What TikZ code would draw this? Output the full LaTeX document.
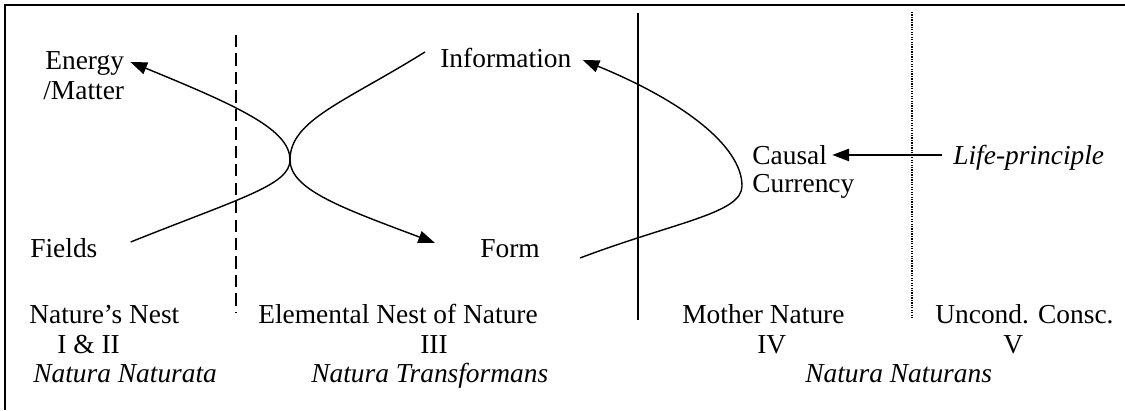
\documentclass[tikz,border=0pt]{standalone}
\usepackage{fontspec}
\setmainfont{Liberation Serif}
\usetikzlibrary{arrows.meta}
\tikzset{
	txt/.style={
		inner sep=0pt,
		anchor=base west,
		text height=11pt,
		text depth=3pt,
		font=\fontsize{15.6}{18}\selectfont,
	},
	ital/.style={
		txt,
		font=\fontsize{15.6}{18}\selectfont\itshape,
	},
	curve/.style={
		line width=0.8pt,
	},
	frame/.style={
		line width=1.1pt,
	},
	divdash/.style={
		line width=0.8pt,
		dash pattern=on 7pt off 3.5pt,
	},
	divsolid/.style={
		line width=1.1pt,
	},
	divdot/.style={
		line width=0.6pt,
		dash pattern=on 0.7pt off 0.7pt,
	},
}
\begin{document}
\begin{tikzpicture}[>={Triangle[length=9.5pt,width=7pt]}]
		\useasboundingbox (0,0) rectangle (22.5,8.2);
		% frame, only top and left edge are in view
		\draw [frame] (22.5,8.1) -| (0.1,0);
		
		% dividers between the nests
		\draw [divdash] (4.72,7.5) -- (4.72,1.94);
		\draw [divsolid] (12.76,7.94) -- (12.76,1.8);
		\draw [divdot] (18.24,7.96) -- (18.24,1.84);
		
		% Place nodes
		\node [txt] (energy) at (0.9,6.8) {Energy};
		\node [txt] (matter) at (0.86,6.2) {/Matter};
		\node [txt] (fields) at (0.6,3.04) {Fields};
		\node [txt] (info) at (8.8,6.84) {Information};
		\node [txt] (form) at (9.6,3.04) {Form};
		\node [txt] (causal) at (15.04,4.9) {Causal};
		\node [txt] (currency) at (15.04,4.34) {Currency};
		\node [ital] (life) at (19.06,4.9) {Life-principle};
		
		\node [txt] (nest) at (0.58,1.72) {Nature’s Nest};
		\node [txt] (nestnum) at (1.14,1.14) {I \& II};
		\node [ital] (naturata) at (0.66,0.56) {Natura Naturata};
		
		\node [txt] (elem) at (5.16,1.72) {Elemental Nest of Nature};
		\node [txt] (elemnum) at (8.4,1.14) {III};
		\node [ital] (transf) at (6.22,0.56) {Natura Transformans};
		
		\node [txt] (mother) at (13.64,1.72) {Mother Nature};
		\node [txt] (mothernum) at (15.14,1.14) {IV};
		\node [ital] (naturans) at (16.1,0.56) {Natura Naturans};
		
		\node [txt] (uncond) at (18.7,1.72) {Uncond. Consc.};
		\node [txt] (uncondnum) at (20.06,1.14) {V};
		
		% where the curves turn
		\coordinate (turnL) at (5.8,5.0);
		\coordinate (turnR) at (14.84,4.48);
		
		\draw [curve, ->] ([xshift=0.66cm, yshift=0.18cm]fields.east)
			.. controls +(2.2,0.88) and +(0,-0.5) .. (turnL)
			.. controls +(0,0.6) and +(2.2,-0.9) .. ([xshift=0.12cm, yshift=0.02cm]energy.east);
		\draw [curve, ->] ([xshift=-0.3cm, yshift=0.18cm]info.west)
			.. controls +(-1.6,-1.0) and +(0,0.8) .. (turnL)
			.. controls +(0,-0.6) and +(-1.8,0.68) .. ([xshift=-0.9cm, yshift=0.16cm]form.west);
		\draw [curve, ->] ([xshift=0.8cm, yshift=-0.14cm]form.east)
			.. controls +(1.9,0.72) and +(0,-0.55) .. (turnR)
			.. controls +(0,0.8) and +(2.0,-0.82) .. ([xshift=0.22cm, yshift=0.02cm]info.east);
		
		\draw [curve, ->] ([xshift=-0.22cm, yshift=0.06cm]life.west) to ([xshift=0.1cm, yshift=0.06cm]causal.east);

	\end{tikzpicture}
\end{document}
